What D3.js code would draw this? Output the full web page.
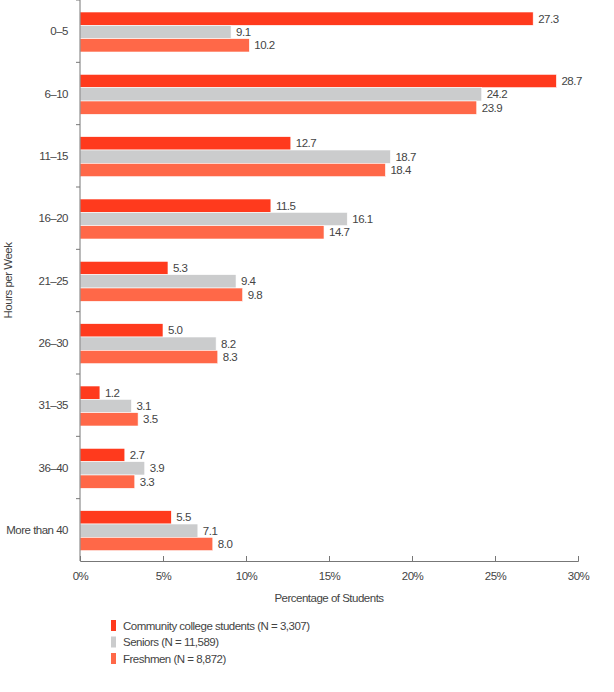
<!DOCTYPE html>
<html>
<head>
<meta charset="utf-8">
<script src="https://cdn.jsdelivr.net/npm/d3@7"></script>
<style>
  body { margin: 0; background: #fff; }
  text { font-family: "Liberation Sans", Arial, sans-serif; letter-spacing: -0.5px; }
</style>
</head>
<body>
<div id="chart"></div>
<script>
// Hours per week categories
const categories = ['0–5', '6–10', '11–15', '16–20', '21–25', '26–30', '31–35', '36–40', 'More than 40'];

// Series values (percent of students)
const community = [27.3, 28.7, 12.7, 11.5, 5.3, 5.0, 1.2, 2.7, 5.5];
const seniors   = [9.1, 24.2, 18.7, 16.1, 9.4, 8.2, 3.1, 3.9, 7.1];
const freshmen  = [10.2, 23.9, 18.4, 14.7, 9.8, 8.3, 3.5, 3.3, 8.0];

const seriesNames = ['Community college students (N = 3,307)', 'Seniors (N = 11,589)', 'Freshmen (N = 8,872)'];
const seriesColors = ['#ff3a1d', '#cbcccd', '#ff6848'];
const xTicks = [0, 5, 10, 15, 20, 25, 30];

const width = 614, height = 692;
const margin = { left: 80, right: 36, top: 0 };
const plotBottom = 561;
const fontSize = '11.5px';

const svg = d3.select('#chart')
    .append('svg')
    .attr('width', width)
    .attr('height', height);

const series = [community, seniors, freshmen];

// Scales
const x = d3.scaleLinear().domain([0, 30]).range([margin.left, width - margin.right]);
const y = d3.scaleBand().domain(categories).range([margin.top, plotBottom]).padding(0);
const sub = d3.scaleBand().domain(d3.range(3)).range([12, 52]).padding(0);

// Bars
const groups = svg.append('g')
    .selectAll('g')
    .data(categories)
    .join('g')
    .attr('transform', d => `translate(0,${y(d)})`);

groups.each(function(cat, i) {
    const g = d3.select(this);
    series.forEach((vals, s) => {
        g.append('rect')
            .attr('x', x(0))
            .attr('y', sub(s))
            .attr('width', x(vals[i]) - x(0))
            .attr('height', sub.bandwidth())
            .attr('fill', seriesColors[s])
            .attr('stroke', '#fff')
            .attr('stroke-width', 0.6);
        g.append('text')
            .attr('x', x(vals[i]) + 5)
            .attr('y', sub(s) + sub.bandwidth() / 2)
            .attr('dy', '0.35em')
            .style('font-size', fontSize)
            .style('fill', '#444')
            .text(vals[i].toFixed(1));
    });
});

// Y axis: ticks at band boundaries, labels at band centers
const yAxis = svg.append('g').attr('class', 'y-axis');
yAxis.append('line')
    .attr('x1', x(0)).attr('x2', x(0))
    .attr('y1', margin.top).attr('y2', plotBottom)
    .attr('stroke', '#777').attr('stroke-width', 1);
yAxis.selectAll('line.tick')
    .data(categories)
    .join('line')
    .attr('class', 'tick')
    .attr('x1', x(0) - 4).attr('x2', x(0))
    .attr('y1', d => y(d)).attr('y2', d => y(d))
    .attr('stroke', '#777');
yAxis.selectAll('text')
    .data(categories)
    .join('text')
    .attr('x', x(0) - 12)
    .attr('y', d => y(d) + y.bandwidth() / 2)
    .attr('dy', '0.35em')
    .attr('text-anchor', 'end')
    .style('font-size', fontSize)
    .style('fill', '#444')
    .text(d => d);

// X axis
const xAxis = svg.append('g')
    .attr('transform', `translate(0,${plotBottom})`)
    .call(d3.axisBottom(x).tickValues(xTicks).tickSize(-5).tickPadding(11).tickFormat(d => d + '%'));
xAxis.select('.domain').attr('stroke', '#777');
xAxis.selectAll('.tick line').attr('stroke', '#777');
xAxis.selectAll('.tick text').style('font-size', fontSize).style('fill', '#444');

// Axis titles
svg.append('text')
    .attr('x', (x(0) + x(30)) / 2)
    .attr('y', 602)
    .attr('text-anchor', 'middle')
    .style('font-size', fontSize)
    .style('fill', '#444')
    .text('Percentage of Students');

svg.append('text')
    .attr('transform', `translate(12,${(margin.top + plotBottom) / 2}) rotate(-90)`)
    .attr('text-anchor', 'middle')
    .style('font-size', fontSize)
    .style('fill', '#444')
    .text('Hours per Week');

// Legend
const legend = svg.append('g').attr('transform', 'translate(111,620)');
seriesNames.forEach((name, i) => {
    legend.append('rect')
        .attr('x', 0)
        .attr('y', i * 16.5)
        .attr('width', 5)
        .attr('height', 11)
        .attr('fill', seriesColors[i]);
    legend.append('text')
        .attr('x', 12)
        .attr('y', i * 16.5 + 5.5)
        .attr('dy', '0.35em')
        .style('font-size', fontSize)
        .style('fill', '#444')
        .text(name);
});
</script>
</body>
</html>
